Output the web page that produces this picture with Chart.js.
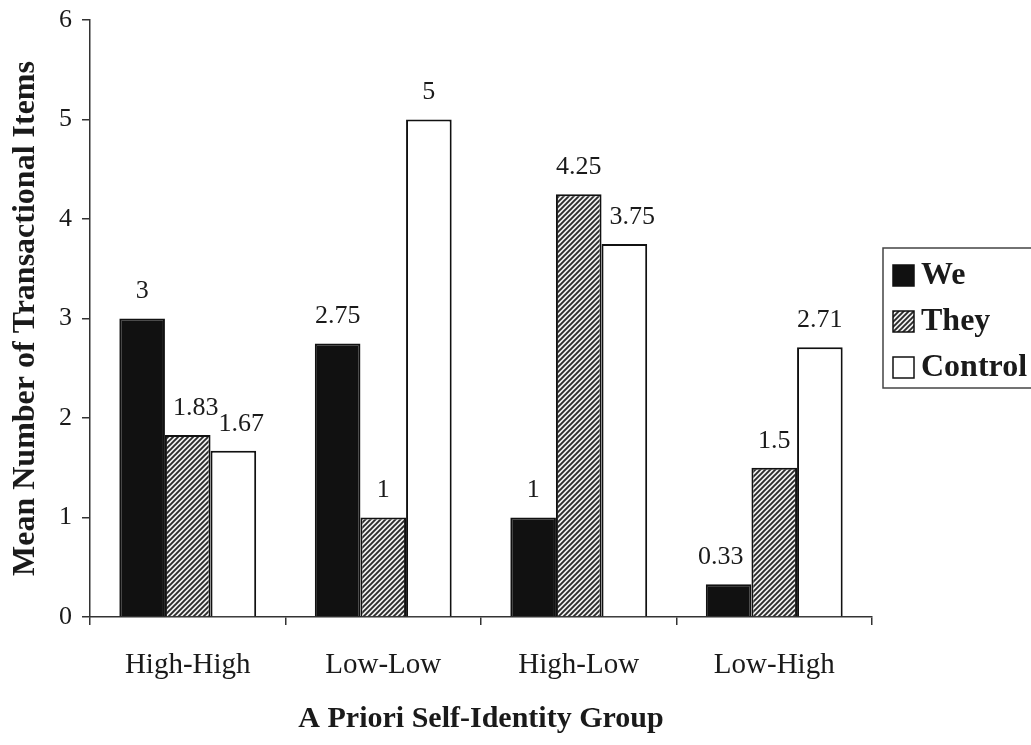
<!DOCTYPE html>
<html>
<head>
<meta charset="utf-8">
<title>Mean Number of Transactional Items</title>
<script src="https://cdn.jsdelivr.net/npm/chart.js@4/dist/chart.umd.min.js"></script>
<style>
  html, body { margin: 0; padding: 0; background: #fff; }
  #wrap { width: 1031px; height: 745px; }
</style>
</head>
<body>
<div id="wrap"><canvas id="chart" width="1031" height="745"></canvas></div>
<script>
// Dados do gráfico
const groups = ['High-High', 'Low-Low', 'High-Low', 'Low-High'];
const weValues = [3, 2.75, 1, 0.33];
const theyValues = [1.83, 1, 4.25, 1.5];
const controlValues = [1.67, 5, 3.75, 2.71];
const yTicks = [0, 1, 2, 3, 4, 5, 6];

const SERIF = "'Liberation Serif', 'Times New Roman', 'DejaVu Serif', serif";
const INK = '#1a1a1a';

// padrão hachurado para "They"
function makeHatch() {
    const size = 5;
    const c = document.createElement('canvas');
    c.width = size; c.height = size;
    const g = c.getContext('2d');
    g.fillStyle = '#f0f0f0';
    g.fillRect(0, 0, size, size);
    g.strokeStyle = '#2a2a2a';
    g.lineWidth = 1.9;
    g.beginPath();
    g.moveTo(-1, size + 1); g.lineTo(size + 1, -1);
    g.moveTo(-1, 1); g.lineTo(1, -1);
    g.moveTo(size - 1, size + 1); g.lineTo(size + 1, size - 1);
    g.stroke();
    return g.createPattern(c, 'repeat');
}

const ctx = document.getElementById('chart').getContext('2d');
const hatch = makeHatch();

// rótulos de valor acima das barras (afastados de barras vizinhas mais altas)
const valueLabels = {
    id: 'valueLabels',
    afterDatasetsDraw(chart) {
        const c = chart.ctx;
        const n = chart.data.datasets.length;
        const gap = 5;
        c.save();
        c.font = '26px ' + SERIF;
        c.fillStyle = INK;
        c.textAlign = 'center';
        c.textBaseline = 'middle';
        chart.data.datasets.forEach((ds, i) => {
            chart.getDatasetMeta(i).data.forEach((bar, j) => {
                const text = String(ds.data[j]);
                const w = c.measureText(text).width;
                const cy = bar.y - 27;
                let cx = bar.x;
                const bottom = cy + 14;
                // vizinho à esquerda
                if (i > 0) {
                    const nb = chart.getDatasetMeta(i - 1).data[j];
                    const edge = nb.x + nb.width / 2;
                    if (nb.y < bottom && cx - w / 2 < edge + gap) cx = edge + 8 + w / 2;
                }
                // vizinho à direita
                if (i < n - 1) {
                    const nb = chart.getDatasetMeta(i + 1).data[j];
                    const edge = nb.x - nb.width / 2;
                    if (nb.y < bottom && cx + w / 2 > edge - gap) cx = edge - 8 - w / 2;
                }
                c.fillText(text, cx, cy);
            });
        });
        c.restore();
    }
};

// legenda com moldura, à direita
const boxLegend = {
    id: 'boxLegend',
    afterDraw(chart) {
        const c = chart.ctx;
        const area = chart.chartArea;
        const left = area.right + 11;
        const top = 248;
        const rowH = 46;
        c.save();
        c.strokeStyle = '#444';
        c.lineWidth = 1.5;
        c.strokeRect(left, top, 200, 140);
        c.font = 'bold 32px ' + SERIF;
        c.textBaseline = 'middle';
        c.textAlign = 'left';
        chart.data.datasets.forEach((ds, i) => {
            const cy = top + 27 + i * rowH;
            c.fillStyle = ds.backgroundColor;
            c.fillRect(left + 10, cy - 10, 21, 21);
            c.strokeStyle = '#111';
            c.lineWidth = 1.5;
            c.strokeRect(left + 10, cy - 10, 21, 21);
            c.fillStyle = INK;
            c.fillText(ds.label, left + 38, cy + 1);
        });
        c.restore();
    }
};

new Chart(ctx, {
    type: 'bar',
    data: {
        labels: groups,
        datasets: [
            { label: 'We', data: weValues, backgroundColor: '#111', borderColor: '#111', borderWidth: 2 },
            { label: 'They', data: theyValues, backgroundColor: hatch, borderColor: '#111', borderWidth: 2 },
            { label: 'Control', data: controlValues, backgroundColor: '#fff', borderColor: '#111', borderWidth: 2 }
        ]
    },
    options: {
        responsive: false,
        animation: false,
        layout: { padding: { top: 20, right: 159, bottom: 0, left: 0 } },
        categoryPercentage: 0.7,
        barPercentage: 1,
        plugins: {
            legend: { display: false },
            tooltip: { enabled: false }
        },
        scales: {
            x: {
                offset: true,
                border: { color: '#333', width: 1.5 },
                grid: { offset: true, drawOnChartArea: false, drawTicks: true, tickLength: 8, color: '#333', lineWidth: 1.5 },
                ticks: { font: { family: SERIF, size: 29 }, color: INK, padding: 23, maxRotation: 0 },
                title: {
                    display: true,
                    text: 'A Priori Self-Identity Group',
                    font: { family: SERIF, size: 30, weight: 'bold' },
                    color: INK,
                    padding: { top: 0, bottom: 8 }
                },
                afterFit: (scale) => { scale.height = 128; }
            },
            y: {
                min: 0,
                max: 6,
                afterBuildTicks: (scale) => { scale.ticks = yTicks.map(v => ({ value: v })); },
                border: { color: '#333', width: 1.5 },
                grid: { drawOnChartArea: false, drawTicks: true, tickLength: 8, color: '#333', lineWidth: 1.5 },
                ticks: { font: { family: SERIF, size: 26 }, color: INK, padding: 10 },
                title: {
                    display: true,
                    text: 'Mean Number of Transactional Items',
                    font: { family: SERIF, size: 32, weight: 'bold' },
                    color: INK,
                    padding: { top: 7, bottom: 0 }
                },
                afterFit: (scale) => {
                    scale.width = 90;
                    scale.paddingTop = 0;
                    scale.paddingBottom = 0;
                }
            }
        }
    },
    plugins: [valueLabels, boxLegend]
});
</script>
</body>
</html>
